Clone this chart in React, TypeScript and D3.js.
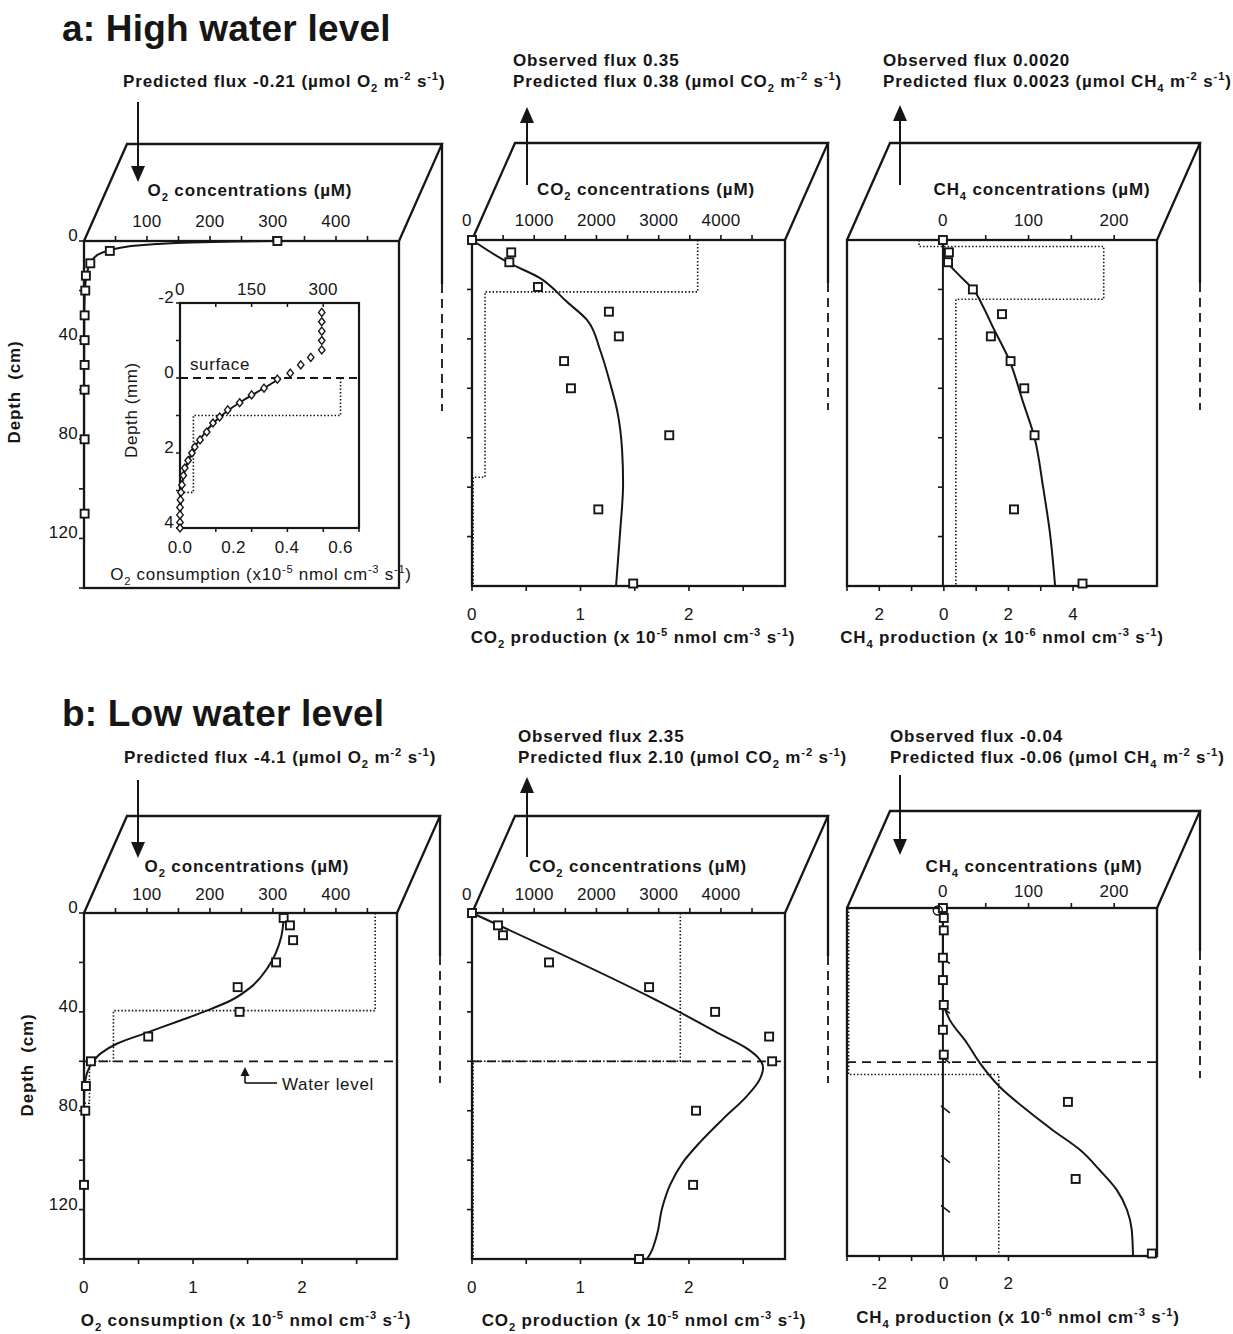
import React from "react";
import * as d3 from "d3";

const FONT = "'Liberation Sans', Arial, Helvetica, sans-serif";
const INK = "#161616";

// ---------- a: high water level ----------
// O2 (µM) vs depth (cm)
const o2HighDepth = [0, 4, 9, 14, 20, 30, 40, 50, 60, 80, 110];
const o2HighConc = [307, 41, 10, 3, 2, 1, 1, 1, 1, 1, 1];
const o2HighModelDepth = [0, 0.25, 0.6, 1.2, 2.2, 3.6, 5.5, 9, 14, 20, 30, 50, 140];
const o2HighModelConc = [300, 240, 170, 115, 70, 42, 22, 10, 4, 1.5, 0.5, 0.2, 0];

// O2 micro-profile at the peat surface (depth in mm)
const microDepth = [-1.75, -1.5, -1.25, -1, -0.75, -0.55, -0.35, -0.13, 0.03, 0.27, 0.45, 0.66, 0.85, 1.04, 1.2, 1.44, 1.65, 1.84, 2.0, 2.2, 2.4, 2.6, 2.85, 3.05, 3.25, 3.45, 3.65, 3.85, 4.0];
const microConc = [297, 297, 297, 297, 297, 274, 253, 231, 204, 176, 150, 125, 100, 83, 69, 56, 42, 31, 25, 17, 10, 7, 4, 2, 1, 0, 0, 0, 0];
const microModelDepth = [0, 0.3, 0.6, 0.9, 1.2, 1.5, 1.8, 2.1, 2.4, 2.7, 3.0, 3.5, 4.0];
const microModelConc = [211, 172, 132, 97, 70, 50, 33, 21, 12, 6, 3, 1, 0];
const microRateDepth = [0, 1, 1, 3.05, 3.05, 4];
const microRate = [0.6, 0.6, 0.05, 0.05, 0, 0];

// CO2
const co2HighDepth = [0, 5, 9, 19, 29, 39, 49, 60, 79, 109, 139];
const co2HighConc = [0, 630, 600, 1060, 2200, 2360, 1480, 1590, 3170, 2030, 2590];
const co2HighModelDepth = [0, 9.3, 15.4, 21.5, 24.3, 32.4, 44.5, 57.9, 68.8, 85, 98.4, 118.6, 140];
const co2HighModelConc = [0, 595, 1093, 1383, 1495, 1850, 2058, 2219, 2331, 2412, 2428, 2379, 2315];
const co2HighRateDepth = [0, 21, 21, 96, 96, 140];
const co2HighRate = [2.08, 2.08, 0.12, 0.12, 0.01, 0.01];

// CH4
const ch4HighDepth = [0, 5, 9, 20, 30, 39, 49, 60, 79, 109, 139];
const ch4HighConc = [0, 7, 6, 35, 69, 56, 79, 95, 107, 83, 163];
const ch4HighModelDepth = [0, 6, 9.3, 14.6, 19.8, 27, 35, 49, 65, 80, 100, 118.6, 140];
const ch4HighModelConc = [0, 1, 6, 20, 35, 47, 58, 78, 93, 107, 117, 125, 131];
const ch4HighRateDepth = [0, 2.6, 2.6, 24, 24, 140];
const ch4HighRate = [-0.77, -0.77, 4.95, 4.95, 0.37, 0.37];

// ---------- b: low water level ----------
const o2LowDepth = [2, 5, 11, 20, 30, 40, 50, 60, 70, 80, 110];
const o2LowConc = [317, 327, 332, 305, 244, 247, 102, 11, 3, 2, 0];
const o2LowModelDepth = [0, 2.8, 9.8, 22, 30, 35.4, 39.4, 43.5, 48.4, 52.8, 56.9, 60.6, 64.6, 69, 76, 140];
const o2LowModelConc = [318, 317, 313, 292, 265, 233, 196, 153, 100, 53, 26, 13, 5, 1.6, 0, 0];
const o2LowRateDepth = [0, 39.5, 39.5, 60, 60, 77, 77, 140];
const o2LowRate = [2.67, 2.67, 0.27, 0.27, 0.05, 0.05, 0, 0];

const co2LowDepth = [0, 5, 9, 20, 30, 40, 50, 60, 80, 110, 140];
const co2LowConc = [0, 418, 498, 1238, 2846, 3907, 4775, 4823, 3600, 3553, 2685];
const co2LowModelDepth = [0, 35.4, 40.2, 48.4, 54.9, 58.5, 62.6, 67, 74, 83.3, 92.7, 100.8, 110, 119.5, 130, 138, 140];
const co2LowModelConc = [0, 2974, 3344, 3939, 4421, 4598, 4678, 4630, 4421, 4035, 3666, 3392, 3183, 3055, 2974, 2862, 2813];
const co2LowRateDepth = [0, 60, 60, 140];
const co2LowRate = [1.92, 1.92, 0.01, 0.01];

const ch4LowDepth = [0, 4, 9, 20, 29, 39, 49, 59, 78, 109, 139];
const ch4LowConc = [0, 1, 1, 0, 0, 1, 0, 1, 146, 155, 244];
const ch4LowModelDepth = [0, 37, 39, 45, 54.3, 62.3, 72, 81.3, 89.3, 97.3, 105.4, 113.4, 121.5, 129.5, 140];
const ch4LowModelConc = [0, 0, 1, 8, 28, 43, 66.5, 98, 128, 160, 183, 203, 215, 220.5, 222];
const ch4LowRateDepth = [0, 67, 67, 140];
const ch4LowRate = [-2.95, -2.95, 1.7, 1.7];
const ch4LowCircleDepth = [1];
const ch4LowCircleConc = [-6];

const waterLevelO2 = 60;
const waterLevelCO2 = 60;
const waterLevelCH4 = 62;

// ---------- text ----------
const fluxTexts = [
  { x: 123, y: 87, t: "Predicted flux -0.21 (µmol O_{2} m^{-2} s^{-1})" },
  { x: 513, y: 66, t: "Observed flux 0.35" },
  { x: 513, y: 87, t: "Predicted flux 0.38 (µmol CO_{2} m^{-2} s^{-1})" },
  { x: 883, y: 66, t: "Observed flux 0.0020" },
  { x: 883, y: 87, t: "Predicted flux 0.0023 (µmol CH_{4} m^{-2} s^{-1})" },
  { x: 124, y: 763, t: "Predicted flux -4.1 (µmol O_{2} m^{-2} s^{-1})" },
  { x: 518, y: 742, t: "Observed flux 2.35" },
  { x: 518, y: 763, t: "Predicted flux 2.10 (µmol CO_{2} m^{-2} s^{-1})" },
  { x: 890, y: 742, t: "Observed flux -0.04" },
  { x: 890, y: 763, t: "Predicted flux -0.06 (µmol CH_{4} m^{-2} s^{-1})" },
];

// ---------- geometry ----------
const BACK_DX = 43;
const BACK_DY = -97;
const BACK_SOLID = 140;
const BACK_DASHED = 127;
const DEPTH_MAX = 140;

type ProdLabel = { v: number; t: string };
interface PanelSpec {
  id: string;
  x0: number; w: number; top: number; bottom: number;
  conc: [number, number]; concTicks: number[]; concLabels: number[];
  concTitle: string; concTitleX: number; concTitleY: number; concLabelY: number;
  depthStyle: "labelled" | "plain" | "zero" | "zeroSlant";
  prod?: [number, number]; prodTicks?: number[]; prodLabels?: ProdLabel[];
  prodTitle?: string; prodTitleX?: number; prodTitleY?: number; prodLabelY?: number;
  obsDepth: number[]; obsConc: number[]; modelDepth: number[]; modelConc: number[];
  rateDepth?: number[]; rate?: number[]; water?: number;
  arrow: { x: number; from: number; to: number };
}

const PANELS: PanelSpec[] = [
  {
    id: "o2-high", x0: 84, w: 315, top: 241, bottom: 588,
    conc: [0, 500], concTicks: d3.range(50, 451, 50), concLabels: [100, 200, 300, 400],
    concTitle: "O_{2} concentrations (µM)", concTitleX: 250, concTitleY: 196, concLabelY: 227,
    depthStyle: "labelled",
    obsDepth: o2HighDepth, obsConc: o2HighConc, modelDepth: o2HighModelDepth, modelConc: o2HighModelConc,
    arrow: { x: 138, from: 102, to: 182 },
  },
  {
    id: "co2-high", x0: 472, w: 313, top: 240, bottom: 586,
    conc: [0, 5030], concTicks: d3.range(500, 4501, 500), concLabels: [0, 1000, 2000, 3000, 4000],
    concTitle: "CO_{2} concentrations (µM)", concTitleX: 646, concTitleY: 195, concLabelY: 226,
    depthStyle: "plain",
    prod: [0, 2.885], prodTicks: d3.range(0, 2.6, 0.5), prodLabels: [{ v: 0, t: "0" }, { v: 1, t: "1" }, { v: 2, t: "2" }],
    prodTitle: "CO_{2} production (x 10^{-5} nmol cm^{-3} s^{-1})", prodTitleX: 633, prodTitleY: 643, prodLabelY: 620,
    obsDepth: co2HighDepth, obsConc: co2HighConc, modelDepth: co2HighModelDepth, modelConc: co2HighModelConc,
    rateDepth: co2HighRateDepth, rate: co2HighRate,
    arrow: { x: 527, from: 185, to: 107 },
  },
  {
    id: "ch4-high", x0: 847, w: 310, top: 240, bottom: 586,
    conc: [-112, 250], concTicks: [50, 100, 150, 200], concLabels: [0, 100, 200],
    concTitle: "CH_{4} concentrations (µM)", concTitleX: 1042, concTitleY: 195, concLabelY: 226,
    depthStyle: "zero",
    prod: [-3, 6.6], prodTicks: d3.range(-3, 4.1, 1), prodLabels: [{ v: -2, t: "2" }, { v: 0, t: "0" }, { v: 2, t: "2" }, { v: 4, t: "4" }],
    prodTitle: "CH_{4} production (x 10^{-6} nmol cm^{-3} s^{-1})", prodTitleX: 1002, prodTitleY: 643, prodLabelY: 620,
    obsDepth: ch4HighDepth, obsConc: ch4HighConc, modelDepth: ch4HighModelDepth, modelConc: ch4HighModelConc,
    rateDepth: ch4HighRateDepth, rate: ch4HighRate,
    arrow: { x: 900, from: 185, to: 105 },
  },
  {
    id: "o2-low", x0: 84, w: 313, top: 913, bottom: 1259,
    conc: [0, 497], concTicks: d3.range(50, 451, 50), concLabels: [100, 200, 300, 400],
    concTitle: "O_{2} concentrations (µM)", concTitleX: 247, concTitleY: 872, concLabelY: 900,
    depthStyle: "labelled",
    prod: [0, 2.87], prodTicks: d3.range(0, 2.6, 0.5), prodLabels: [{ v: 0, t: "0" }, { v: 1, t: "1" }, { v: 2, t: "2" }],
    prodTitle: "O_{2} consumption (x 10^{-5} nmol cm^{-3} s^{-1})", prodTitleX: 246, prodTitleY: 1326, prodLabelY: 1293,
    obsDepth: o2LowDepth, obsConc: o2LowConc, modelDepth: o2LowModelDepth, modelConc: o2LowModelConc,
    rateDepth: o2LowRateDepth, rate: o2LowRate, water: waterLevelO2,
    arrow: { x: 138, from: 780, to: 858 },
  },
  {
    id: "co2-low", x0: 472, w: 313, top: 913, bottom: 1259,
    conc: [0, 5030], concTicks: d3.range(500, 4501, 500), concLabels: [0, 1000, 2000, 3000, 4000],
    concTitle: "CO_{2} concentrations (µM)", concTitleX: 638, concTitleY: 872, concLabelY: 900,
    depthStyle: "plain",
    prod: [0, 2.885], prodTicks: d3.range(0, 2.6, 0.5), prodLabels: [{ v: 0, t: "0" }, { v: 1, t: "1" }, { v: 2, t: "2" }],
    prodTitle: "CO_{2} production (x 10^{-5} nmol cm^{-3} s^{-1})", prodTitleX: 644, prodTitleY: 1326, prodLabelY: 1293,
    obsDepth: co2LowDepth, obsConc: co2LowConc, modelDepth: co2LowModelDepth, modelConc: co2LowModelConc,
    rateDepth: co2LowRateDepth, rate: co2LowRate, water: waterLevelCO2,
    arrow: { x: 527, from: 857, to: 777 },
  },
  {
    id: "ch4-low", x0: 847, w: 310, top: 908, bottom: 1256,
    conc: [-112, 250], concTicks: [50, 100, 150, 200], concLabels: [0, 100, 200],
    concTitle: "CH_{4} concentrations (µM)", concTitleX: 1034, concTitleY: 872, concLabelY: 897,
    depthStyle: "zeroSlant",
    prod: [-3, 6.6], prodTicks: d3.range(-3, 2.1, 1), prodLabels: [{ v: -2, t: "-2" }, { v: 0, t: "0" }, { v: 2, t: "2" }],
    prodTitle: "CH_{4} production (x 10^{-6} nmol cm^{-3} s^{-1})", prodTitleX: 1018, prodTitleY: 1323, prodLabelY: 1289,
    obsDepth: ch4LowDepth, obsConc: ch4LowConc, modelDepth: ch4LowModelDepth, modelConc: ch4LowModelConc,
    rateDepth: ch4LowRateDepth, rate: ch4LowRate, water: waterLevelCH4,
    arrow: { x: 900, from: 775, to: 855 },
  },
];

// ---------- rich text (sub/superscripts) ----------
type Seg = { text: string; shift: number };
function parseRich(s: string): Seg[] {
  const out: Seg[] = [];
  const re = /([_^])\{([^}]*)\}/g;
  let last = 0;
  let m: RegExpExecArray | null;
  while ((m = re.exec(s))) {
    if (m.index > last) out.push({ text: s.slice(last, m.index), shift: 0 });
    out.push({ text: m[2], shift: m[1] === "_" ? 1 : -1 });
    last = re.lastIndex;
  }
  if (last < s.length) out.push({ text: s.slice(last), shift: 0 });
  return out;
}

function RichText(props: {
  x: number; y: number; text: string; size?: number; bold?: boolean;
  anchor?: "start" | "middle" | "end"; rotate?: number; spacing?: number; dy?: string;
}) {
  const { x, y, text, size = 17, bold = false, anchor = "start", rotate = 0, dy } = props;
  const spacing = props.spacing ?? (bold ? 0.85 : 0);
  const segs = parseRich(text);
  let cur = 0;
  const kids = segs.map((s, i) => {
    const target = s.shift === 1 ? size * 0.3 : s.shift === -1 ? -size * 0.4 : 0;
    const d = target - cur;
    cur = target;
    return (
      <tspan key={i} dy={d} fontSize={s.shift ? size * 0.66 : size}>
        {s.text}
      </tspan>
    );
  });
  return (
    <text
      x={x}
      y={y}
      dy={dy}
      textAnchor={anchor}
      fontFamily={FONT}
      fontWeight={bold ? 700 : 400}
      fontSize={size}
      fill={INK}
      letterSpacing={spacing}
      style={{ whiteSpace: "pre" }}
      transform={rotate ? `rotate(${rotate} ${x} ${y})` : undefined}
    >
      {kids}
    </text>
  );
}

function Arrow({ x, from, to }: { x: number; from: number; to: number }) {
  const dir = to > from ? 1 : -1;
  const head = 16;
  const hw = 7;
  return (
    <g>
      <line x1={x} y1={from} x2={x} y2={to - dir * head} stroke={INK} strokeWidth={2} />
      <path d={`M${x - hw},${to - dir * head}L${x + hw},${to - dir * head}L${x},${to}Z`} fill={INK} />
    </g>
  );
}

function Square({ x, y }: { x: number; y: number }) {
  return <rect x={x - 4} y={y - 4} width={8} height={8} fill="#fff" stroke={INK} strokeWidth={1.9} />;
}

function Panel({ p }: { p: PanelSpec }) {
  const x1 = p.x0 + p.w;
  const xC = d3.scaleLinear().domain(p.conc).range([p.x0, x1]);
  const yD = d3.scaleLinear().domain([0, DEPTH_MAX]).range([p.top, p.bottom]);
  const xP = p.prod ? d3.scaleLinear().domain(p.prod).range([p.x0, x1]) : null;

  const model = d3
    .line<number>()
    .x((_, i) => xC(p.modelConc[i]))
    .y((d) => yD(d))
    .curve(d3.curveMonotoneY)(p.modelDepth);

  const rateLine =
    xP && p.rateDepth && p.rate
      ? d3
          .line<number>()
          .x((_, i) => xP(p.rate![i]))
          .y((d) => yD(d))(p.rateDepth)
      : null;

  const bx = x1 + BACK_DX;
  const by = p.top + BACK_DY;
  const zeroX = xC(0);
  const depthTicks = d3.range(0, DEPTH_MAX + 1, 20);

  return (
    <g>
      {/* box: front face, top face and back edge */}
      <g stroke={INK} strokeWidth={2.3} fill="none">
        <path d={`M${p.x0},${p.top}L${p.x0 + BACK_DX},${by}H${bx}L${x1},${p.top}`} />
        <line x1={bx} y1={by} x2={bx} y2={by + BACK_SOLID} />
        <line x1={bx} y1={by + BACK_SOLID} x2={bx} y2={by + BACK_SOLID + BACK_DASHED} strokeWidth={1.8} strokeDasharray="9 6" />
        <rect x={p.x0} y={p.top} width={p.w} height={p.bottom - p.top} />
      </g>

      {/* concentration axis (top) */}
      <g stroke={INK} strokeWidth={1.6}>
        {p.concTicks.map((v) => (
          <line key={v} x1={xC(v)} x2={xC(v)} y1={p.top} y2={p.top - 5} />
        ))}
      </g>
      {p.concLabels.map((v) => (
        <RichText key={v} x={xC(v) - (v === 0 && p.conc[0] === 0 ? 5 : 0)} y={p.concLabelY} text={String(v)} anchor="middle" spacing={0.3} />
      ))}
      <RichText x={p.concTitleX} y={p.concTitleY} text={p.concTitle} bold anchor="middle" />

      {/* depth ticks */}
      <g stroke={INK} strokeWidth={1.6}>
        {depthTicks
          .filter((d) => (p.depthStyle === "labelled" ? true : d > 0 && d < DEPTH_MAX))
          .map((d) => {
            if (p.depthStyle === "zero") return <line key={d} x1={zeroX - 5} x2={zeroX} y1={yD(d)} y2={yD(d)} />;
            if (p.depthStyle === "zeroSlant")
              return <line key={d} x1={zeroX - 2} x2={zeroX + 7} y1={yD(d) - 1} y2={yD(d) + 6} />;
            return <line key={d} x1={p.x0 - 5} x2={p.x0} y1={yD(d)} y2={yD(d)} />;
          })}
      </g>
      {p.depthStyle === "labelled" &&
        [0, 40, 80, 120].map((d) => (
          <RichText key={d} x={p.x0 - 6} y={yD(d)} dy="0.36em" text={String(d)} anchor="end" spacing={0.3} />
        ))}
      {(p.depthStyle === "zero" || p.depthStyle === "zeroSlant") && (
        <line x1={zeroX} x2={zeroX} y1={p.top} y2={p.bottom} stroke={INK} strokeWidth={2} />
      )}

      {/* production axis (bottom) */}
      {xP && (
        <g>
          <g stroke={INK} strokeWidth={1.6}>
            {p.prodTicks!.map((v) => (
              <line key={v} x1={xP(v)} x2={xP(v)} y1={p.bottom} y2={p.bottom + 5} />
            ))}
          </g>
          {p.prodLabels!.map((l) => (
            <RichText key={l.v} x={xP(l.v)} y={p.prodLabelY!} text={l.t} anchor="middle" spacing={0.3} />
          ))}
          <RichText x={p.prodTitleX!} y={p.prodTitleY!} text={p.prodTitle!} bold anchor="middle" />
        </g>
      )}

      {/* production profile */}
      {rateLine && <path d={rateLine} fill="none" stroke={INK} strokeWidth={1.6} strokeDasharray="1.5 2" />}

      {/* water table */}
      {p.water !== undefined && (
        <line x1={p.x0} x2={x1} y1={yD(p.water)} y2={yD(p.water)} stroke={INK} strokeWidth={1.8} strokeDasharray="9 6" />
      )}

      {/* modelled concentration */}
      <path d={model!} fill="none" stroke={INK} strokeWidth={2} />

      {/* measured concentration */}
      {p.obsDepth.map((d, i) => (
        <Square key={i} x={xC(p.obsConc[i])} y={yD(d)} />
      ))}

      {p.id === "ch4-low" &&
        ch4LowCircleDepth.map((d, i) => (
          <circle key={i} cx={xC(ch4LowCircleConc[i])} cy={yD(d)} r={4.5} fill="none" stroke={INK} strokeWidth={1.4} />
        ))}

      <Arrow {...p.arrow} />
    </g>
  );
}

function MicroInset() {
  const x0 = 180, x1 = 359, top = 303, bottom = 528;
  const xC = d3.scaleLinear().domain([0, 375]).range([x0, x1]);
  const xR = d3.scaleLinear().domain([0, 0.669]).range([x0, x1]);
  const yM = d3.scaleLinear().domain([-2, 4]).range([top, bottom]);
  const model = d3
    .line<number>()
    .x((_, i) => xC(microModelConc[i]))
    .y((d) => yM(d))
    .curve(d3.curveMonotoneY)(microModelDepth);
  const rate = d3
    .line<number>()
    .x((_, i) => xR(microRate[i]))
    .y((d) => yM(d))(microRateDepth);
  const cTicks = d3.range(0, 376, 75);
  return (
    <g>
      <rect x={x0} y={top} width={x1 - x0} height={bottom - top} fill="#fff" stroke={INK} strokeWidth={2.2} />
      <g stroke={INK} strokeWidth={1.5}>
        {cTicks.map((v) => (
          <g key={v}>
            <line x1={xC(v)} x2={xC(v)} y1={top} y2={top + 4} />
            <line x1={xC(v)} x2={xC(v)} y1={bottom} y2={bottom + 4} />
          </g>
        ))}
        {d3.range(-2, 4.1, 1).map((d) => (
          <line key={d} x1={x0 - 4} x2={x0} y1={yM(d)} y2={yM(d)} />
        ))}
      </g>
      {[0, 150, 300].map((v) => (
        <RichText key={v} x={xC(v)} y={295} text={String(v)} anchor="middle" spacing={0.3} />
      ))}
      {[-2, 0, 2, 4].map((d) => (
        <RichText key={d} x={x0 - 6} y={yM(d)} dy="0.36em" text={String(d)} anchor="end" spacing={0.3} />
      ))}
      {[0, 0.2, 0.4, 0.6].map((v) => (
        <RichText key={v} x={xR(v)} y={553} text={v.toFixed(1)} anchor="middle" spacing={0.3} />
      ))}
      <RichText x={261} y={580} text="O_{2} consumption (x10^{-5} nmol cm^{-3} s^{-1})" anchor="middle" spacing={0.7} />
      <RichText x={137} y={410} dy="0.36em" text="Depth (mm)" anchor="middle" rotate={-90} spacing={0.6} />
      <line x1={x0} x2={x1} y1={yM(0)} y2={yM(0)} stroke={INK} strokeWidth={1.8} strokeDasharray="8 5" />
      <RichText x={190} y={370} text="surface" spacing={0.6} />
      <path d={rate!} fill="none" stroke={INK} strokeWidth={1.6} strokeDasharray="1.5 2" />
      <path d={model!} fill="none" stroke={INK} strokeWidth={2} />
      {microDepth.map((d, i) => {
        const cx = xC(microConc[i]);
        const cy = yM(d);
        return (
          <path key={i} d={`M${cx},${cy - 4}L${cx + 3.2},${cy}L${cx},${cy + 4}L${cx - 3.2},${cy}Z`} fill="#fff" stroke={INK} strokeWidth={1.4} />
        );
      })}
    </g>
  );
}

export default function App() {
  return (
    <svg
      width={1233}
      height={1334}
      viewBox="0 0 1233 1334"
      style={{ position: "absolute", left: 0, top: 0, background: "#fff" }}
    >
      <rect width={1233} height={1334} fill="#fff" />
      <RichText x={62} y={41} text="a: High water level" size={37} bold spacing={0.2} />
      <RichText x={62} y={726} text="b: Low water level" size={37} bold spacing={0.2} />

      {fluxTexts.map((f, i) => (
        <RichText key={i} x={f.x} y={f.y} text={f.t} bold />
      ))}

      {PANELS.map((p) => (
        <Panel key={p.id} p={p} />
      ))}

      <MicroInset />

      {/* depth axis titles */}
      <RichText x={20} y={392} dy="0.36em" text="Depth  (cm)" bold anchor="middle" rotate={-90} />
      <RichText x={33} y={1065} dy="0.36em" text="Depth  (cm)" bold anchor="middle" rotate={-90} />

      {/* water level annotation */}
      <g>
        <line x1={245} x2={245} y1={1083} y2={1074} stroke={INK} strokeWidth={1.6} />
        <path d="M240.5,1076L249.5,1076L245,1067Z" fill={INK} />
        <line x1={245} x2={277} y1={1083} y2={1083} stroke={INK} strokeWidth={1.6} />
        <RichText x={282} y={1090} text="Water level" spacing={0.7} />
      </g>
    </svg>
  );
}
